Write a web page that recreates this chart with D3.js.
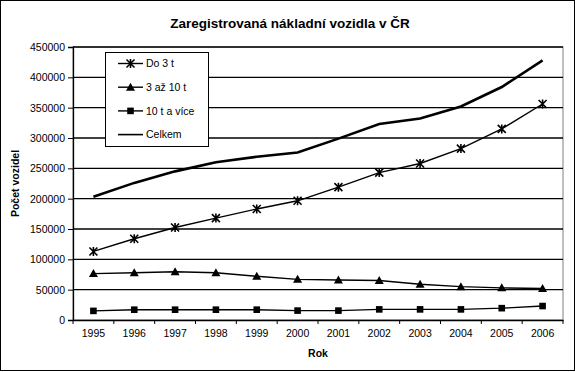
<!DOCTYPE html>
<html>
<head>
<meta charset="utf-8">
<script src="https://cdn.jsdelivr.net/npm/d3@7"></script>
<style>
  body { margin: 0; background: #fff; }
  svg text { font-family: "Liberation Sans", Arial, sans-serif; fill: #000; }
</style>
</head>
<body>
<div id="chart"></div>
<script>
// data
const years = ["1995","1996","1997","1998","1999","2000","2001","2002","2003","2004","2005","2006"];
const do3t    = [113000,134000,152500,168000,183000,196500,219000,243000,258000,282500,315000,356000];
const t3az10  = [76500,78000,79500,78000,72000,67000,66000,65000,59000,55000,53000,52000];
const t10aVic = [15000,17000,17000,17000,17000,15500,15500,17500,17500,17500,19500,23000];
const celkem  = [203000,226000,245000,260000,269000,276000,299000,323000,332000,352000,384000,428000];
const yTicks  = [0,50000,100000,150000,200000,250000,300000,350000,400000,450000];

const W = 575, H = 372;
const margin = {top: 47, right: 12, bottom: 52, left: 73},
  width = W - margin.left - margin.right,
  height = H - margin.top - margin.bottom;

const svgRoot = d3.select("#chart").append("svg")
  .attr("width", W).attr("height", H);

// outer chart border
svgRoot.append("rect")
  .attr("x", 0.5).attr("y", 0.5)
  .attr("width", W - 1).attr("height", H - 2)
  .attr("fill", "#fff").attr("stroke", "#000").attr("stroke-width", 1);

const svg = svgRoot.append("g")
  .attr("transform", `translate(${margin.left}, ${margin.top})`);

const x = d3.scaleBand().domain(years).range([0, width]).padding(0);
const y = d3.scaleLinear().domain([0, 450000]).range([height, 0]);
const cx = d => x(d) + x.bandwidth() / 2;

// plot area border (grey)
svg.append("rect")
  .attr("x", 0).attr("y", 0).attr("width", width).attr("height", height)
  .attr("fill", "none").attr("stroke", "#808080").attr("stroke-width", 1);

// gridlines
svg.append("g")
  .selectAll("line")
  .data(yTicks.filter(v => v > 0))
  .join("line")
  .attr("x1", 0).attr("x2", width)
  .attr("y1", d => y(d)).attr("y2", d => y(d))
  .attr("stroke", "#000").attr("stroke-width", 1.3);

// y axis
const yAxis = svg.append("g")
  .call(d3.axisLeft(y).tickValues(yTicks).tickFormat(d3.format("d")).tickSize(5).tickPadding(3));
yAxis.selectAll("text").style("font-size", "10.5px");
yAxis.selectAll("line").attr("stroke", "#000");
yAxis.select(".domain").attr("stroke", "#000").attr("stroke-width", 1.3);

// x axis - labels centred, ticks on band boundaries
const xAxis = svg.append("g")
  .attr("transform", `translate(0, ${height})`)
  .call(d3.axisBottom(x).tickSize(0).tickPadding(10));
xAxis.selectAll("text").style("font-size", "10.5px");
xAxis.select(".domain").attr("stroke", "#000").attr("stroke-width", 1.3);
xAxis.selectAll(".bnd")
  .data(d3.range(years.length + 1))
  .join("line")
  .attr("x1", i => i * x.step()).attr("x2", i => i * x.step())
  .attr("y1", 0).attr("y2", 4)
  .attr("stroke", "#000");

// lines
const line = d3.line().x((d, i) => cx(years[i])).y(d => y(d));

svg.append("path").datum(celkem).attr("d", line)
  .attr("fill", "none").attr("stroke", "#000").attr("stroke-width", 2.6);

[do3t, t3az10, t10aVic].forEach(s => {
  svg.append("path").datum(s).attr("d", line)
    .attr("fill", "none").attr("stroke", "#000").attr("stroke-width", 1.4);
});

// markers
const star = (g, px, py) => {
  g.append("path")
    .attr("d", `M${px-4},${py-4}L${px+4},${py+4}M${px-4},${py+4}L${px+4},${py-4}M${px},${py-4.5}L${px},${py+4.5}`)
    .attr("stroke", "#000").attr("stroke-width", 1.6).attr("fill", "none");
};
const tri = (g, px, py) => {
  g.append("path")
    .attr("d", `M${px},${py-4.5}L${px+4.5},${py+3.5}L${px-4.5},${py+3.5}Z`)
    .attr("fill", "#000");
};
const sq = (g, px, py) => {
  g.append("rect").attr("x", px - 3.3).attr("y", py - 3.3)
    .attr("width", 6.6).attr("height", 6.6).attr("fill", "#000");
};

const mk = svg.append("g");
do3t.forEach((v, i) => star(mk, cx(years[i]), y(v)));
t3az10.forEach((v, i) => tri(mk, cx(years[i]), y(v)));
t10aVic.forEach((v, i) => sq(mk, cx(years[i]), y(v)));

// legend
const leg = svgRoot.append("g").attr("transform", "translate(105, 52)");
leg.append("rect").attr("x", 0.5).attr("y", 0.5).attr("width", 103).attr("height", 94)
  .attr("fill", "#fff").attr("stroke", "#000").attr("stroke-width", 1);
const legItems = [
  {name: "Do 3 t", m: star},
  {name: "3 až 10 t", m: tri},
  {name: "10 t a více", m: sq},
  {name: "Celkem", m: null}
];
legItems.forEach((d, i) => {
  const ly = 11.5 + i * 23.7;
  leg.append("line").attr("x1", 13).attr("x2", 38).attr("y1", ly).attr("y2", ly)
    .attr("stroke", "#000").attr("stroke-width", d.m ? 1.4 : 1.6);
  if (d.m) d.m(leg, 25.5, ly);
  leg.append("text").attr("x", 41).attr("y", ly).attr("dy", "0.35em")
    .style("font-size", "10.5px").text(d.name);
});

// title
svgRoot.append("text")
  .attr("x", 290).attr("y", 28)
  .attr("text-anchor", "middle")
  .style("font-size", "13.5px").style("font-weight", "bold")
  .text("Zaregistrovaná nákladní vozidla v ČR");

// axis titles
svgRoot.append("text")
  .attr("transform", `translate(19, ${margin.top + height / 2}) rotate(-90)`)
  .attr("text-anchor", "middle")
  .style("font-size", "10.5px").style("font-weight", "bold")
  .text("Počet vozidel");

svgRoot.append("text")
  .attr("x", margin.left + width / 2).attr("y", 357)
  .attr("text-anchor", "middle")
  .style("font-size", "10.5px").style("font-weight", "bold")
  .text("Rok");
</script>
</body>
</html>
